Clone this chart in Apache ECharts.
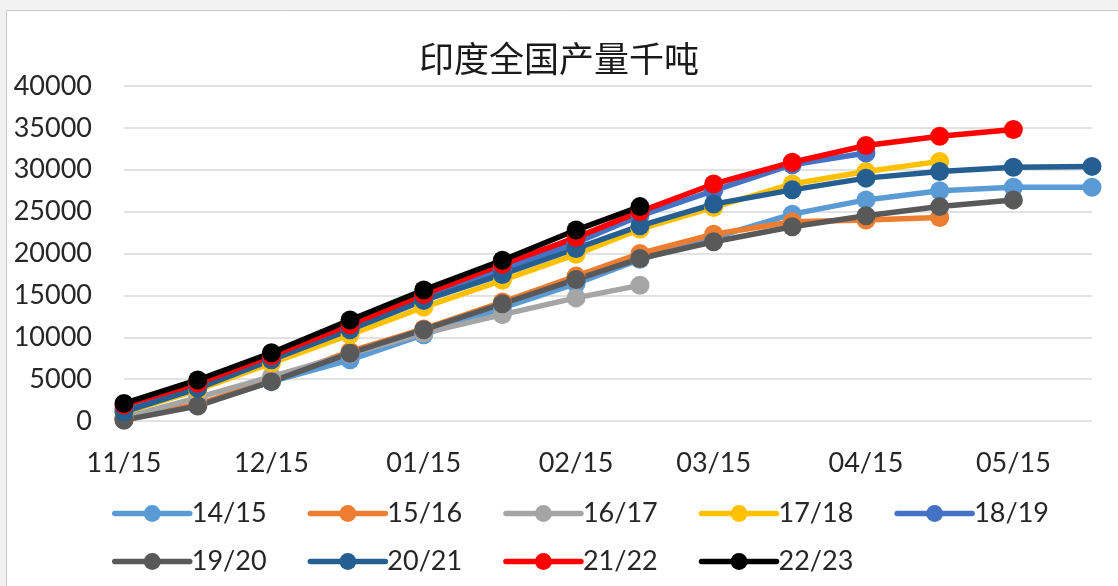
<!DOCTYPE html>
<html lang="zh">
<head>
    <meta charset="UTF-8">
    <script src="https://cdn.jsdelivr.net/npm/echarts@6.0.0/dist/echarts.min.js"></script>
    <title>印度全国产量千吨</title>
    <style>
        html, body { margin: 0; padding: 0; background: #f2f2f2; }
        #tu { width: 1118px; height: 586px; }
    </style>
</head>
<body>
<div id="tu"></div>
<script type="text/javascript">
    // 日期（横轴为日期轴，按天计）
    var dates = ['11/15', '11/30', '12/15', '12/31', '01/15', '01/31', '02/15', '02/28',
                 '03/15', '03/31', '04/15', '04/30', '05/15', '05/31'];
    var tickDates = ['11/15', '12/15', '01/15', '02/15', '03/15', '04/15', '05/15'];

    var s1415 = [300, 1900, 4700, 7300, 10300, 13500, 16400, 19300, 21900, 24700, 26400, 27500, 27900, 27900];
    var s1516 = [300, 2000, 4900, 8300, 11000, 14200, 17300, 20000, 22300, 23800, 24000, 24300];
    var s1617 = [400, 2800, 5300, 8000, 10500, 12700, 14700, 16200];
    var s1718 = [1000, 3700, 6900, 10300, 13600, 16800, 19900, 22900, 25500, 28300, 29800, 31000];
    var s1819 = [1400, 4100, 7400, 11100, 14700, 18100, 21300, 24500, 27500, 30600, 32000];
    var s1920 = [100, 1800, 4700, 8100, 10900, 14000, 16900, 19400, 21400, 23200, 24500, 25600, 26400];
    var s2021 = [1100, 3900, 7300, 10900, 14400, 17500, 20600, 23300, 25900, 27600, 29000, 29800, 30300, 30400];
    var s2122 = [1900, 4500, 7800, 11500, 15100, 18700, 21900, 25000, 28300, 30900, 32900, 34000, 34800];
    var s2223 = [2100, 4900, 8150, 12050, 15650, 19200, 22800, 25600];

    var seasons = [
        { name: '14/15', data: s1415, color: '#5B9BD5' },
        { name: '15/16', data: s1516, color: '#ED7D31' },
        { name: '16/17', data: s1617, color: '#A5A5A5' },
        { name: '17/18', data: s1718, color: '#FFC000' },
        { name: '18/19', data: s1819, color: '#4472C4' },
        { name: '19/20', data: s1920, color: '#595959' },
        { name: '20/21', data: s2021, color: '#255E91' },
        { name: '21/22', data: s2122, color: '#FF0000' },
        { name: '22/23', data: s2223, color: '#000000' }
    ];

    // 从 11/15 起算的天数
    function dayOf(md) {
        var m = parseInt(md.slice(0, 2), 10), d = parseInt(md.slice(3), 10);
        var y = m >= 11 ? 2022 : 2023;
        return Math.round((Date.UTC(y, m - 1, d) - Date.UTC(2022, 10, 15)) / 86400000);
    }
    var xDays = dates.map(dayOf);
    var tickDays = tickDates.map(dayOf);

    var font = 'Lato';
    var txt = '#262626';

    var series = seasons.map(function (s) {
        return {
            name: s.name,
            type: 'line',
            data: s.data.map(function (v, i) { return [xDays[i], v]; }),
            symbol: 'circle',
            symbolSize: 19,
            lineStyle: { width: 5.5, color: s.color, cap: 'round', join: 'round' },
            itemStyle: { color: s.color },
            emphasis: { disabled: true }
        };
    });

    var legendCommon = {
        left: 107,
        itemWidth: 75,
        itemHeight: 21,
        itemGap: 41,
        lineStyle: { width: 5.5, cap: 'round' },
        textStyle: { fontFamily: font, fontSize: 27, color: txt, padding: [0, 0, 0, -3] }
    };

    var thisChart = echarts.init(document.getElementById('tu'));
    var option = {
        backgroundColor: '#f2f2f2',
        animation: false,
        graphic: [{
            type: 'rect',
            z: -10,
            shape: { x: 6.5, y: 10.5, width: 1120, height: 590 },
            style: { fill: '#ffffff', stroke: '#c8c8c8', lineWidth: 1 }
        }],
        title: {
            text: '印度全国产量千吨',
            left: 'center',
            top: 36,
            textStyle: { fontFamily: 'Noto Sans CJK SC', fontSize: 35, fontWeight: 'normal', color: '#1a1a1a' }
        },
        legend: [
            Object.assign({ top: 495, data: ['14/15', '15/16', '16/17', '17/18', '18/19'] }, legendCommon),
            Object.assign({ top: 543, data: ['19/20', '20/21', '21/22', '22/23'] }, legendCommon)
        ],
        grid: { left: 124, right: 26, top: 86, bottom: 165 },
        xAxis: {
            type: 'value',
            min: 0,
            max: xDays[xDays.length - 1],
            axisLine: { show: false },
            axisTick: { show: false },
            splitLine: { show: false },
            axisLabel: {
                customValues: tickDays,
                margin: 29,
                fontFamily: font,
                fontSize: 27,
                color: txt,
                formatter: function (v) {
                    var k = tickDays.indexOf(v);
                    return k >= 0 ? tickDates[k] : '';
                }
            }
        },
        yAxis: {
            type: 'value',
            min: 0,
            max: 40000,
            interval: 5000,
            axisLine: { show: false },
            axisTick: { show: false },
            splitLine: { lineStyle: { color: '#d9d9d9', width: 1.5 } },
            axisLabel: {
                margin: 32, fontFamily: font, fontSize: 27, color: txt,
                formatter: function (v) { return String(v); }
            }
        },
        series: series
    };
    thisChart.setOption(option);
</script>
</body>
</html>
